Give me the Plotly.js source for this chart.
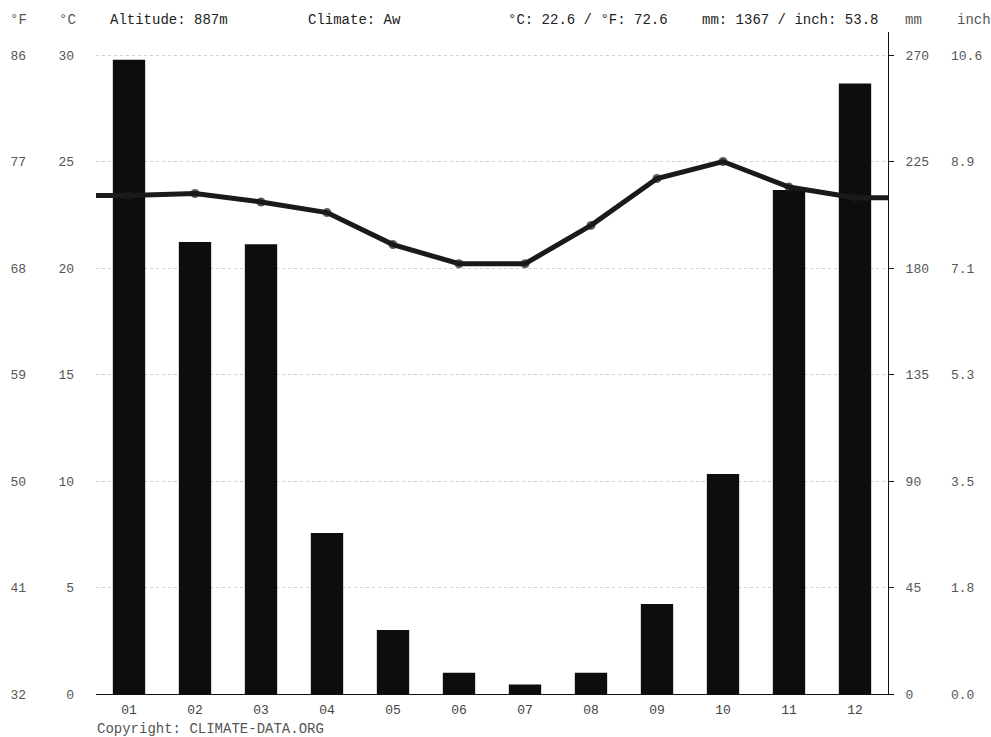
<!DOCTYPE html>
<html>
<head>
<meta charset="utf-8">
<script src="https://cdn.plot.ly/plotly-3.0.1.min.js"></script>
<style>html,body{margin:0;padding:0;background:#fff;}#chart{width:991px;height:737px;}</style>
</head>
<body>
<div id="chart"></div>
<script>
// ---- data ----
const months = ['01','02','03','04','05','06','07','08','09','10','11','12'];
const tempC = [23.4, 23.5, 23.1, 22.6, 21.1, 20.2, 20.2, 22.0, 24.2, 25.0, 23.8, 23.3];
const precipMM = [268, 191, 190, 68, 27, 9, 4, 9, 38, 93, 213, 258];
const tempTicksC = [0, 5, 10, 15, 20, 25, 30];
const tempTicksF = ['32', '41', '50', '59', '68', '77', '86'];
const precipTicksMM = [0, 45, 90, 135, 180, 225, 270];
const precipTicksInch = ['0.0', '1.8', '3.5', '5.3', '7.1', '8.9', '10.6'];
const altitudeText = 'Altitude: 887m';
const climateText = 'Climate: Aw';
const tempSummary = '°C: 22.6 / °F: 72.6';
const precipSummary = 'mm: 1367 / inch: 53.8';
const copyrightText = 'Copyright: CLIMATE-DATA.ORG';

// ---- layout helpers ----
const W = 991, H = 737;
const M = {l: 96, r: 103, t: 32, b: 43};
const PW = W - M.l - M.r, PH = H - M.t - M.b;
const FONT = 'Liberation Mono, DejaVu Sans Mono, monospace';
const cMax = 31.08;               // °C top of plot
const mmPerC = 9;                 // 270 mm <-> 30 °C
const xIdx = months.map((m, i) => i + 1);
const bounds = [0.5].concat(xIdx.map(v => v + 0.5));
const px = x => (x - M.l) / PW;
const py = y => (H - M.b - y) / PH;

const lineX = [0.5].concat(xIdx, [12.5]);
const lineY = [tempC[0]].concat(tempC, [tempC[tempC.length - 1]]);
const markerSizes = lineX.map((v, i) => (i === 0 || i === lineX.length - 1) ? 0 : 9);

const bars = {
  type: 'bar', x: xIdx, y: precipMM, xaxis: 'x', yaxis: 'y',
  width: 0.49, marker: {color: '#0d0d0d', line: {width: 0}},
  hoverinfo: 'skip'
};
const line = {
  type: 'scatter', mode: 'lines+markers', x: lineX, y: lineY,
  xaxis: 'x', yaxis: 'y2',
  line: {color: '#1a1a1a', width: 5},
  marker: {color: '#1a1a1a', size: markerSizes, line: {width: 0}},
  hoverinfo: 'skip'
};
// empty traces so the secondary-unit axes (°F, inch) are drawn
const fAxisHolder = {type: 'scatter', mode: 'markers', x: [], y: [], xaxis: 'x', yaxis: 'y3', hoverinfo: 'skip'};
const inchAxisHolder = {type: 'scatter', mode: 'markers', x: [], y: [], xaxis: 'x', yaxis: 'y4', hoverinfo: 'skip'};

const tickFont = {family: FONT, size: 13, color: '#555'};
const layout = {
  width: W, height: H, margin: M,
  paper_bgcolor: '#fff', plot_bgcolor: '#fff',
  showlegend: false,
  xaxis: {
    range: [0.5, 12.5], tickvals: xIdx, ticktext: months,
    showgrid: false, zeroline: false, ticks: '',
    showline: true, linecolor: '#111', linewidth: 1,
    tickfont: {family: FONT, size: 13, color: '#444'},
    ticklabelstandoff: 3
  },
  xaxis2: {
    overlaying: 'x', anchor: 'y', side: 'bottom',
    range: [0.5, 12.5], tickvals: bounds, showticklabels: false,
    ticks: 'outside', ticklen: 4, tickcolor: '#111', tickwidth: 1,
    showgrid: false, zeroline: false, showline: false
  },
  yaxis: {   // mm, right side
    side: 'right', anchor: 'x',
    range: [0, cMax * mmPerC], tickvals: precipTicksMM,
    showgrid: true, gridcolor: '#cfcfcf', griddash: 'dot', gridwidth: 1,
    zeroline: false, showline: true, linecolor: '#111', linewidth: 1,
    ticks: 'outside', ticklen: 5, tickcolor: '#111',
    tickfont: tickFont, ticklabelstandoff: 9
  },
  yaxis2: {  // °C, left side
    overlaying: 'y', side: 'left', anchor: 'x',
    range: [0, cMax], tickvals: tempTicksC,
    showgrid: false, zeroline: false, showline: false, ticks: '',
    tickfont: tickFont, ticklabelstandoff: 21
  },
  yaxis3: {  // °F, left
    overlaying: 'y', side: 'left', anchor: 'free', position: 0,
    range: [0, cMax], tickvals: tempTicksC, ticktext: tempTicksF,
    showgrid: false, zeroline: false, showline: false, ticks: '',
    tickfont: tickFont, ticklabelstandoff: 70
  },
  yaxis4: {  // inch, right
    overlaying: 'y', side: 'right', anchor: 'free', position: 1,
    range: [0, cMax * mmPerC], tickvals: precipTicksMM, ticktext: precipTicksInch,
    showgrid: false, zeroline: false, showline: false, ticks: '',
    tickfont: tickFont, ticklabelstandoff: 62
  },
  annotations: [
    ['°F', 8, 20, '#555'], ['°C', 57, 20, '#555'],
    [altitudeText, 108, 20, '#222'], [climateText, 306, 20, '#222'],
    [tempSummary, 506, 20, '#222'], [precipSummary, 700, 20, '#222'],
    ['mm', 903, 20, '#555'], ['inch', 955, 20, '#555'],
    [copyrightText, 95, 729, '#555']
  ].map(a => ({
    text: a[0], xref: 'paper', yref: 'paper', x: px(a[1]), y: py(a[2]),
    xanchor: 'left', yanchor: 'middle', showarrow: false,
    font: {family: FONT, size: 14, color: a[3]}
  }))
};

Plotly.newPlot('chart', [bars, line, fAxisHolder, inchAxisHolder], layout, {displayModeBar: false, staticPlot: true});
</script>
</body>
</html>
